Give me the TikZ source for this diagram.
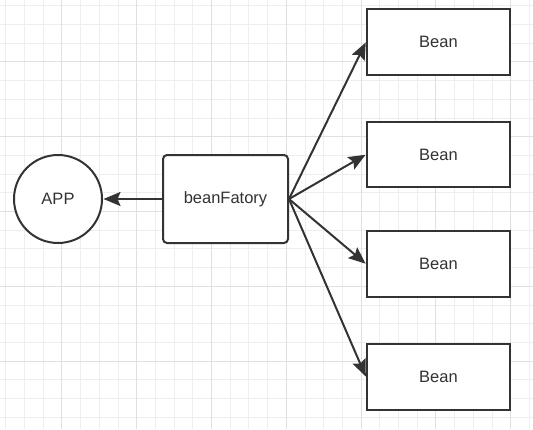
\documentclass[tikz,border=0pt]{standalone}
\usepackage{fontspec}
\setmainfont{Liberation Sans}
\usetikzlibrary{arrows.meta}
\definecolor{ink}{HTML}{333333}
\definecolor{gridminor}{HTML}{EEEEEE}
\definecolor{gridmajor}{HTML}{E0E0E0}
\tikzset{
  box/.style={draw=ink, line width=2pt, fill=white, text=ink, font=\fontsize{16.5}{18}\selectfont, inner sep=0pt},
  link/.style={draw=ink, line width=2pt, shorten >=0.5pt},
  tipend/.style={arrows={-Stealth[length=17pt, width=14pt, inset=3pt]}}
}
\begin{document}
\begin{tikzpicture}[x=1pt,y=-1pt]
\useasboundingbox (0,0) rectangle (533,429);
\fill[white] (0,0) rectangle (533,429);
% grid
\foreach \i in {0,...,28} {
  \pgfmathsetmacro{\p}{round(5.4+18.7*\i)+0.5}
  \draw[gridminor, line width=1pt] (\p,0) -- (\p,429);
  \draw[gridminor, line width=1pt] (0,\p) -- (533,\p);
}
\foreach \i in {0,...,6} {
  \pgfmathsetmacro{\p}{round(5.4+18.7*(3+4*\i))+0.5}
  \draw[gridmajor, line width=1pt] (\p,0) -- (\p,429);
  \draw[gridmajor, line width=1pt] (0,\p) -- (533,\p);
}
% nodes
\node[box, circle, minimum size=88pt] (app) at (58,199) {APP};
\node[box, rounded corners=4pt, minimum width=125pt, minimum height=88pt] (bf) at (225.5,199) {beanFatory};
\node[box, minimum width=143pt, minimum height=66pt] (b1) at (438.5,42) {Bean};
\node[box, minimum width=143pt, minimum height=65pt] (b2) at (438.5,154.5) {Bean};
\node[box, minimum width=143pt, minimum height=66pt] (b3) at (438.5,264) {Bean};
\node[box, minimum width=143pt, minimum height=66pt] (b4) at (438.5,377) {Bean};
% connectors
\draw[link, tipend] (bf.west) -- (app.east);
\draw[link, tipend] (bf.east) -- (b1.west);
\draw[link, tipend] (bf.east) -- (b2.west);
\draw[link, tipend] (bf.east) -- (b3.west);
\draw[link, tipend] (bf.east) -- (b4.west);
\end{tikzpicture}
\end{document}
